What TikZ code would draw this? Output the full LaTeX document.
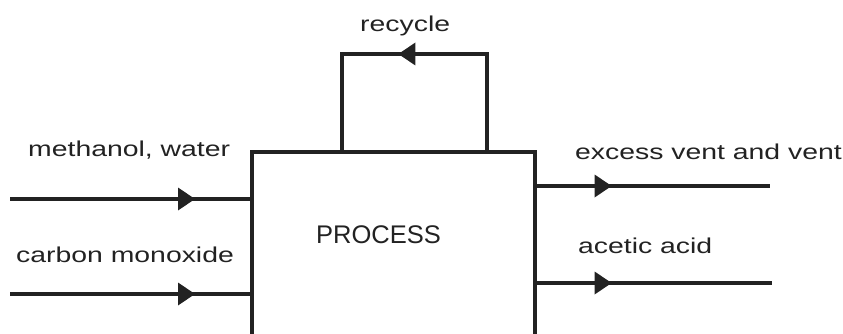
\documentclass[tikz,border=0pt]{standalone}
\usepackage{fontspec}
\setmainfont{Liberation Sans}
\newfontfamily\labfont[FakeStretch=1.32]{Liberation Sans}
\usetikzlibrary{arrows.meta,decorations.markings}
\definecolor{ink}{HTML}{222222}
\tikzset{
  flow/.style={draw=ink,line width=3.2pt},
  midarrow/.style={postaction={decorate},decoration={markings,
    mark=at position #1 with {\arrow{Triangle[length=17pt,width=23pt,fill=ink,line width=0pt]}}}},
  lab/.style={inner sep=0pt,anchor=base west,text=ink,font=\labfont\fontsize{21.5}{24}\selectfont},
  procbox/.style={draw=ink,line width=3.2pt,minimum width=283pt,minimum height=220pt,inner sep=0pt},
}
\begin{document}
\begin{tikzpicture}[x=1pt,y=-1pt]
\useasboundingbox (0,0) rectangle (843,334);
\clip (0,0) rectangle (843,334);
% process box (bottom runs off the picture)
\node[procbox] (box) at (393.5,262) {};
\node[inner sep=0pt,anchor=base west,text=ink,font=\fontsize{25.5}{28}\selectfont] (ptext) at (316,243) {PROCESS};
% inputs
\coordinate (in1) at (10,199);
\coordinate (in2) at (10,294);
\draw[flow,midarrow=185pt] (in1) -- (in1 -| box.west);
\draw[flow,midarrow=185pt] (in2) -- (in2 -| box.west);
% outputs
\coordinate (out1) at (770,186);
\coordinate (out2) at (772,283);
\draw[flow,midarrow=75pt] (out1 -| box.east) -- (out1);
\draw[flow,midarrow=75pt] (out2 -| box.east) -- (out2);
% recycle loop
\coordinate (r1) at (342,54);
\coordinate (r2) at (487,54);
\draw[flow,midarrow=185pt] (r2 |- box.north) -- (r2) -- (r1) -- (r1 |- box.north);
% labels
\node[lab] (lrec) at (360,32) {recycle};
\node[lab] (lmw) at (28,157) {methanol, water};
\node[lab] (lco) at (16,262) {carbon monoxide};
\node[lab] (lev) at (575,159) {excess vent and vent};
\node[lab] (laa) at (578,253) {acetic acid};
\end{tikzpicture}
\end{document}
